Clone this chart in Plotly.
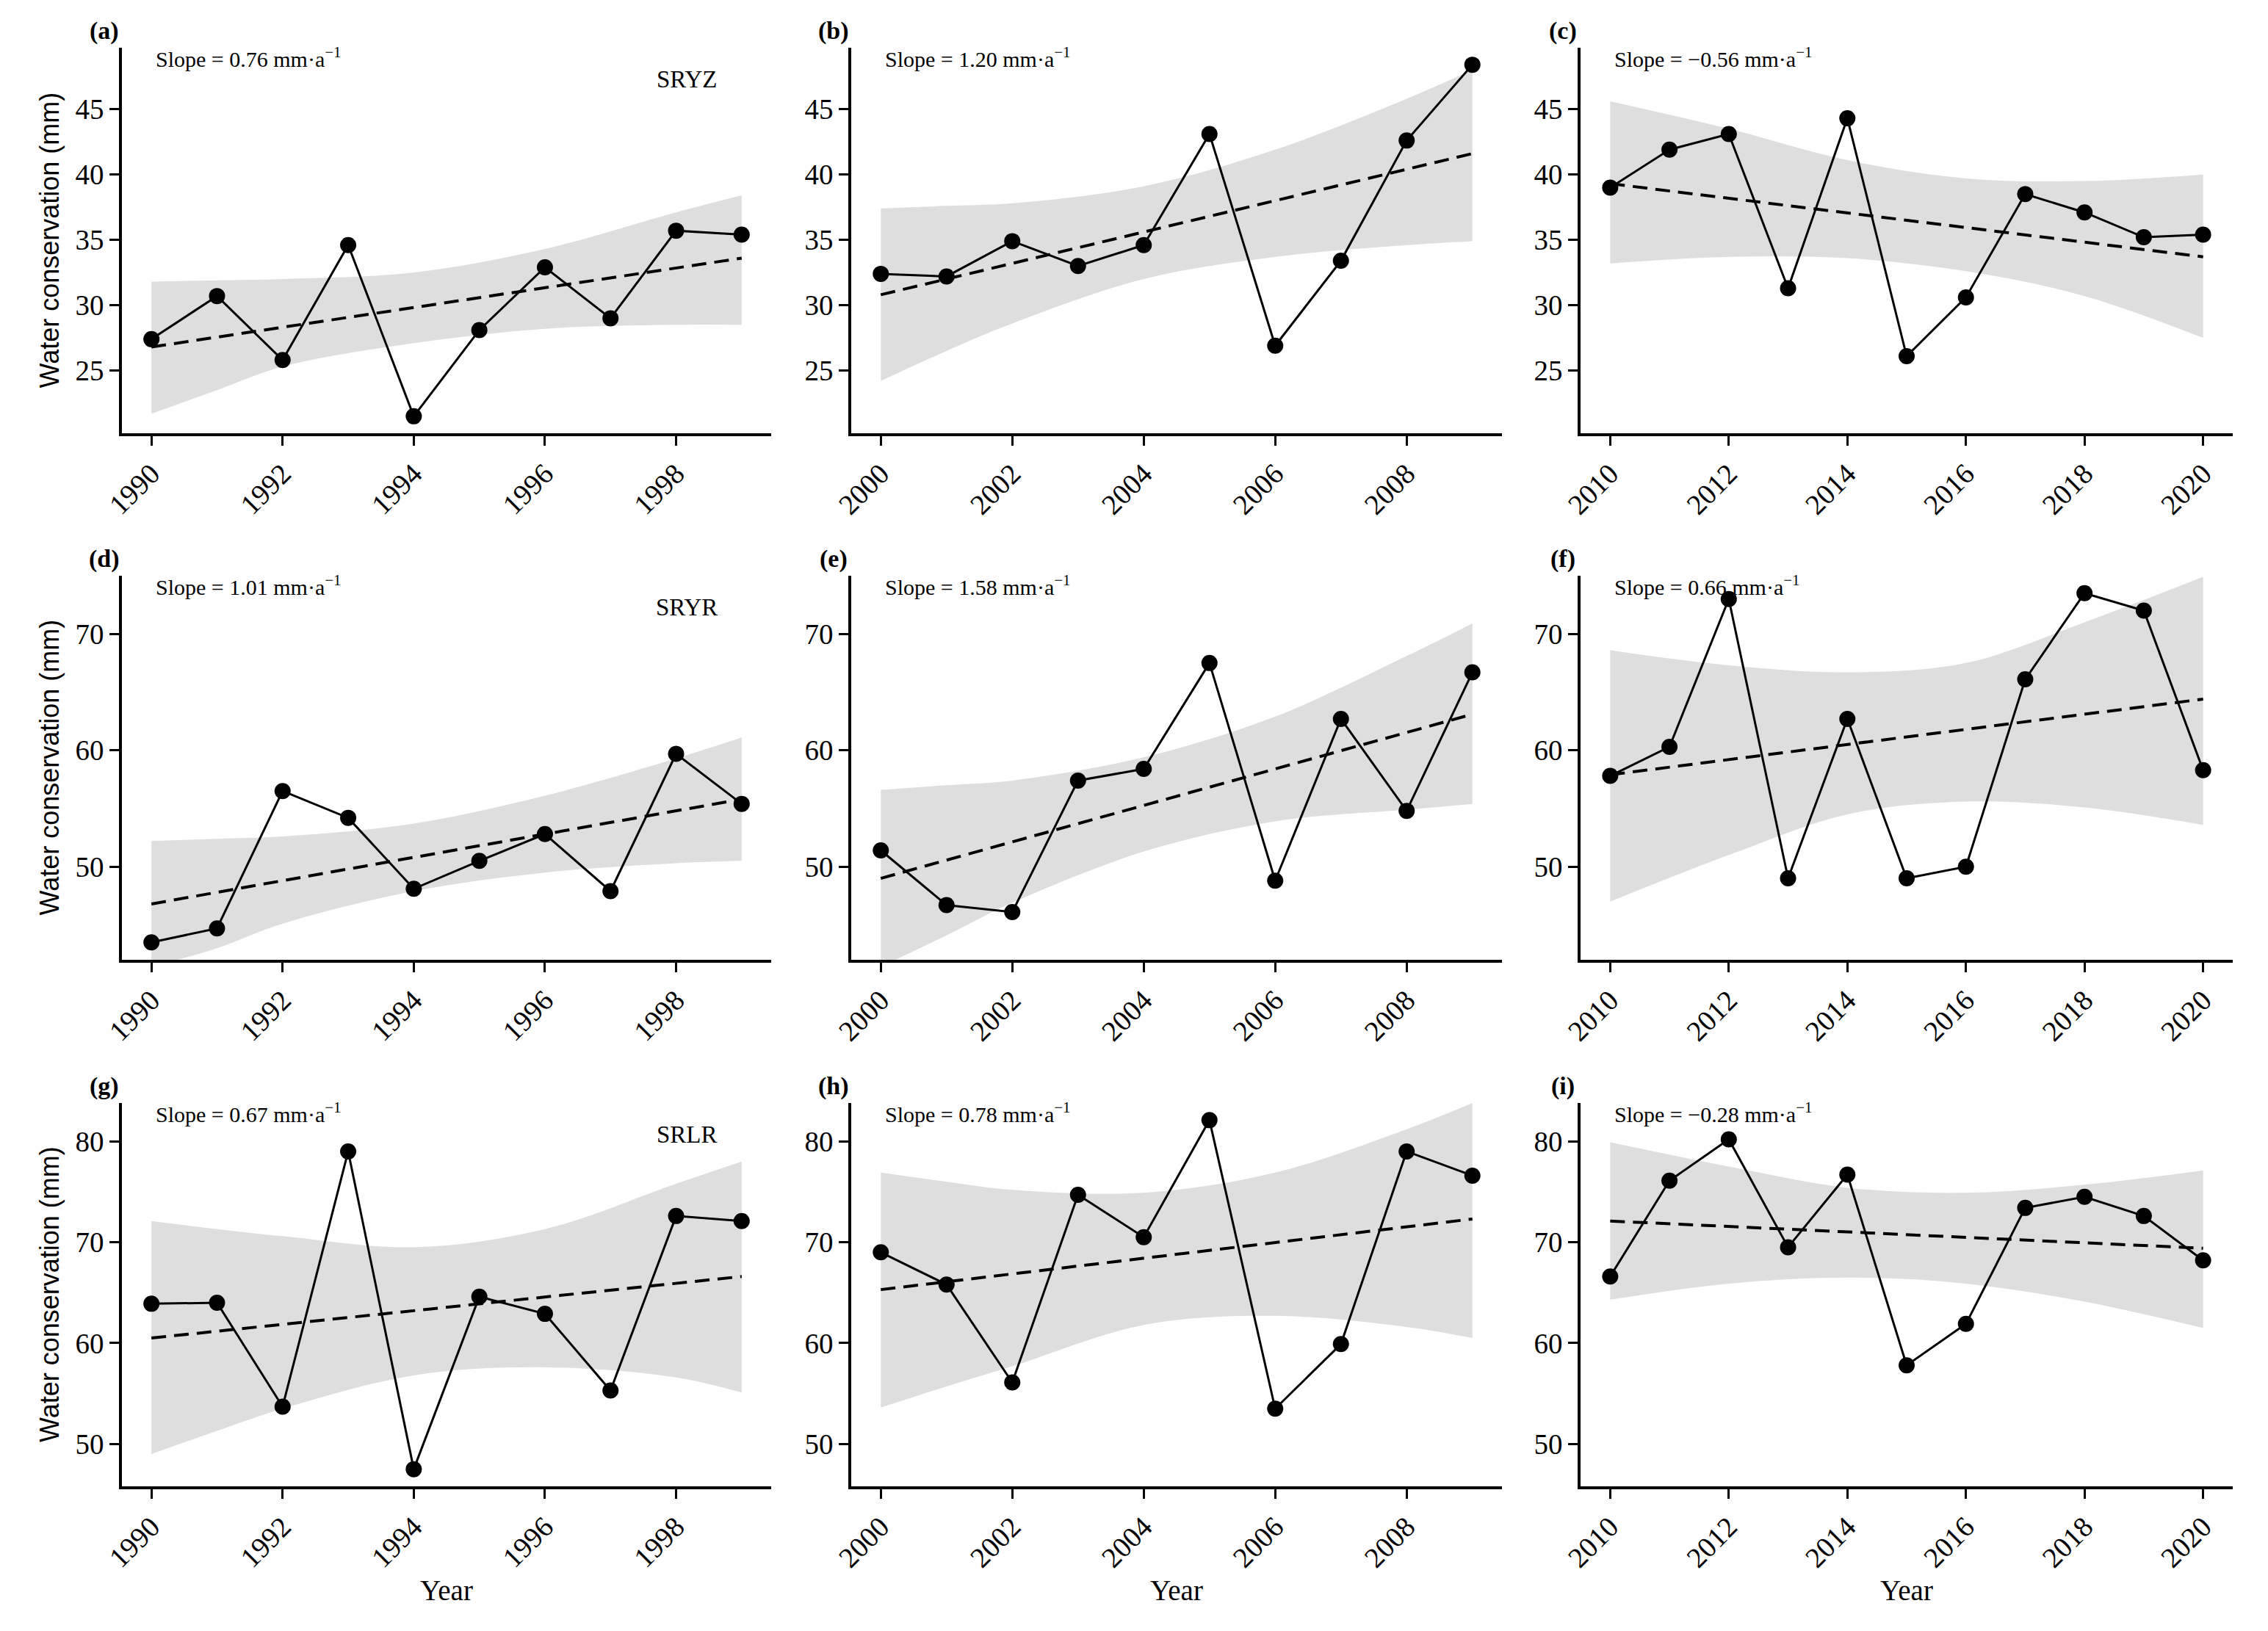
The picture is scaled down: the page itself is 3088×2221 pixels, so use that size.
import plotly.graph_objects as go

W, H = 3088, 2221

# ---------------- data ----------------
years_c1 = list(range(1990, 2000))
years_c2 = list(range(2000, 2010))
years_c3 = list(range(2010, 2021))

band_x_c1 = [1990, 1991, 1992, 1994, 1996, 1998, 1999]
band_x_c2 = [2000, 2001, 2002, 2004, 2006, 2008, 2009]
band_x_c3 = [2010, 2012, 2014, 2016, 2018, 2020]

# SRYZ
wc_a = [27.4, 30.7, 25.8, 34.6, 21.5, 28.1, 32.9, 29.0, 35.7, 35.4]
wc_b = [32.4, 32.2, 34.9, 33.0, 34.6, 43.1, 26.9, 33.4, 42.6, 48.4]
wc_c = [39.0, 41.9, 43.1, 31.3, 44.3, 26.1, 30.6, 38.5, 37.1, 35.2, 35.4]
# SRYR
wc_d = [43.5, 44.7, 56.5, 54.2, 48.1, 50.5, 52.8, 47.9, 59.7, 55.4]
wc_e = [51.4, 46.7, 46.1, 57.4, 58.4, 67.5, 48.8, 62.7, 54.8, 66.7]
wc_f = [57.8, 60.3, 73.0, 49.0, 62.7, 49.0, 50.0, 66.1, 73.5, 72.0, 58.3]
# SRLR
wc_g = [63.9, 64.0, 53.7, 79.0, 47.5, 64.6, 62.9, 55.3, 72.6, 72.1]
wc_h = [69.0, 65.8, 56.1, 74.7, 70.5, 82.1, 53.5, 59.9, 79.0, 76.6]
wc_i = [66.6, 76.1, 80.2, 69.5, 76.7, 57.8, 61.9, 73.4, 74.5, 72.6, 68.2]

# confidence band, lower / upper edges
lo_a = [21.7, 23.5, 25.3, 27.1, 28.2, 28.5, 28.5]
hi_a = [31.8, 31.9, 32.0, 32.5, 34.3, 37.1, 38.4]
lo_b = [24.2, 26.5, 28.6, 32.0, 33.7, 34.6, 34.9]
hi_b = [37.4, 37.6, 37.8, 39.1, 41.9, 45.8, 48.0]
lo_c = [33.2, 33.7, 33.6, 32.6, 30.7, 27.5]
hi_c = [45.6, 43.5, 41.1, 39.7, 39.5, 40.0]
lo_d = [41.4, 43.0, 45.1, 47.9, 49.5, 50.3, 50.5]
hi_d = [52.2, 52.4, 52.6, 53.7, 56.1, 59.3, 61.1]
lo_e = [41.4, 44.1, 46.9, 51.3, 53.9, 54.9, 55.4]
hi_e = [56.6, 57.0, 57.4, 59.4, 62.9, 68.1, 70.9]
lo_f = [47.0, 51.0, 54.5, 55.6, 55.1, 53.6]
hi_f = [68.6, 67.3, 66.7, 67.5, 71.0, 74.9]
lo_g = [49.0, 51.3, 53.5, 56.8, 57.6, 56.6, 55.1]
hi_g = [72.1, 71.3, 70.6, 69.5, 71.3, 75.8, 78.0]
lo_h = [53.6, 55.7, 57.7, 61.8, 62.7, 61.6, 60.5]
hi_h = [76.9, 76.0, 75.2, 74.9, 76.9, 81.2, 83.8]
lo_i = [64.3, 65.9, 66.5, 65.9, 64.1, 61.5]
hi_i = [79.9, 77.5, 75.4, 74.9, 75.7, 77.1]

# fitted trend line, value at first and last year
trend_a = [26.8, 33.6]
trend_b = [30.8, 41.6]
trend_c = [39.3, 33.7]
trend_d = [46.8, 55.8]
trend_e = [49.0, 63.1]
trend_f = [57.9, 64.4]
trend_g = [60.5, 66.6]
trend_h = [65.3, 72.3]
trend_i = [72.1, 69.4]

slope_labels = ["0.76", "1.20", "\u22120.56", "1.01", "1.58", "0.66",
                "0.67", "0.78", "\u22120.28"]
panel_letters = ["(a)", "(b)", "(c)", "(d)", "(e)", "(f)", "(g)", "(h)", "(i)"]
region_labels = ["SRYZ", "SRYR", "SRLR"]

row_yticks = [[25, 30, 35, 40, 45], [50, 60, 70], [50, 60, 70, 80]]
row_yrange = [[20.2, 49.7], [42.0, 75.0], [45.8, 83.8]]
col_xticks = [list(range(1990, 1999, 2)), list(range(2000, 2009, 2)),
              list(range(2010, 2021, 2))]
col_xrange = [[1989.55, 1999.45], [1999.55, 2009.45], [2009.5, 2020.5]]
col_years = [years_c1, years_c2, years_c3]
col_band_x = [band_x_c1, band_x_c2, band_x_c3]

values = [wc_a, wc_b, wc_c, wc_d, wc_e, wc_f, wc_g, wc_h, wc_i]
lows = [lo_a, lo_b, lo_c, lo_d, lo_e, lo_f, lo_g, lo_h, lo_i]
highs = [hi_a, hi_b, hi_c, hi_d, hi_e, hi_f, hi_g, hi_h, hi_i]
trends = [trend_a, trend_b, trend_c, trend_d, trend_e, trend_f,
          trend_g, trend_h, trend_i]

# ---------------- layout geometry (page pixels) ----------------
OFF = 8  # page body margin compensation
col_px = [(166 - OFF, 1050 - OFF), (1159 - OFF, 2045 - OFF), (2152 - OFF, 3040 - OFF)]
row_px = [(65 - OFF, 590 - OFF), (784 - OFF, 1307 - OFF), (1502 - OFF, 2024 - OFF)]

SERIF = "Liberation Serif"
SANS = "Liberation Sans"

fig = go.Figure()
annotations = []
layout = {}

for i in range(9):
    r, c = divmod(i, 3)
    xn = "x" if i == 0 else f"x{i+1}"
    yn = "y" if i == 0 else f"y{i+1}"
    xk = "xaxis" if i == 0 else f"xaxis{i+1}"
    yk = "yaxis" if i == 0 else f"yaxis{i+1}"
    x0, x1 = col_px[c]
    y0, y1 = row_px[r]
    yrs = col_years[c]
    bx = col_band_x[c]

    # ribbon
    fig.add_trace(go.Scatter(x=bx, y=lows[i], mode="lines",
                             line=dict(width=0, shape="spline", color="rgba(0,0,0,0)"),
                             showlegend=False, hoverinfo="skip", xaxis=xn, yaxis=yn))
    fig.add_trace(go.Scatter(x=bx, y=highs[i], mode="lines", fill="tonexty",
                             fillcolor="rgb(222,222,222)",
                             line=dict(width=0, shape="spline", color="rgba(0,0,0,0)"),
                             showlegend=False, hoverinfo="skip", xaxis=xn, yaxis=yn))
    # trend
    fig.add_trace(go.Scatter(x=[yrs[0], yrs[-1]], y=trends[i], mode="lines",
                             line=dict(color="black", width=4, dash="20px,11px"),
                             showlegend=False, xaxis=xn, yaxis=yn))
    # series
    fig.add_trace(go.Scatter(x=yrs, y=values[i], mode="lines+markers",
                             line=dict(color="black", width=3),
                             marker=dict(color="black", size=22),
                             showlegend=False, xaxis=xn, yaxis=yn))

    common = dict(showline=True, linewidth=3.5, linecolor="black", ticks="outside",
                  ticklen=13, tickwidth=3, tickcolor="black", showgrid=False,
                  zeroline=False, automargin=False,
                  tickfont=dict(family=SERIF, size=39, color="black"))
    layout[xk] = dict(domain=[x0 / W, x1 / W], range=col_xrange[c],
                      tickvals=col_xticks[c], ticktext=[str(v) for v in col_xticks[c]],
                      tickangle=-45, anchor=yn, **common)
    layout[yk] = dict(domain=[1 - y1 / H, 1 - y0 / H], range=row_yrange[r],
                      tickvals=row_yticks[r], ticktext=[str(v) for v in row_yticks[r]],
                      anchor=xn, **common)

    # panel letter
    annotations.append(dict(xref="paper", yref="paper", x=(x0 - 24) / W,
                            y=1 - (y0 - 23) / H, xanchor="center", yanchor="middle",
                            text=panel_letters[i], showarrow=False,
                            font=dict(family=SERIF, size=34, color="black",
                                      weight="bold")))
    # slope text
    annotations.append(dict(xref="paper", yref="paper", x=(x0 + 44) / W,
                            y=1 - (y0 + 13) / H, xanchor="left", yanchor="middle",
                            text=f"Slope = {slope_labels[i]} mm\u00b7a<sup>\u22121</sup>",
                            showarrow=False,
                            font=dict(family=SERIF, size=30, color="black")))
    if c == 0:
        annotations.append(dict(xref="paper", yref="paper", x=(x1 - 115) / W,
                                y=1 - (y0 + 43) / H, xanchor="center", yanchor="middle",
                                text=region_labels[r], showarrow=False,
                                font=dict(family=SERIF, size=33, color="black")))
        annotations.append(dict(xref="paper", yref="paper", x=(67 - OFF) / W,
                                y=1 - ((y0 + y1) / 2) / H, xanchor="center",
                                yanchor="middle", textangle=-90,
                                text="Water conservation (mm)", showarrow=False,
                                font=dict(family=SANS, size=36, color="black")))
    if r == 2:
        annotations.append(dict(xref="paper", yref="paper", x=((x0 + x1) / 2) / W,
                                y=1 - (2165 - OFF) / H, xanchor="center", yanchor="middle",
                                text="Year", showarrow=False,
                                font=dict(family=SERIF, size=39, color="black")))

fig.update_layout(template="none", width=W, height=H,
                  margin=dict(l=0, r=0, t=0, b=0, pad=0, autoexpand=False),
                  font=dict(family=SERIF, size=39, color="black"),
                  paper_bgcolor="white", plot_bgcolor="white",
                  annotations=annotations, showlegend=False, **layout)

fig.write_html("out.html")
